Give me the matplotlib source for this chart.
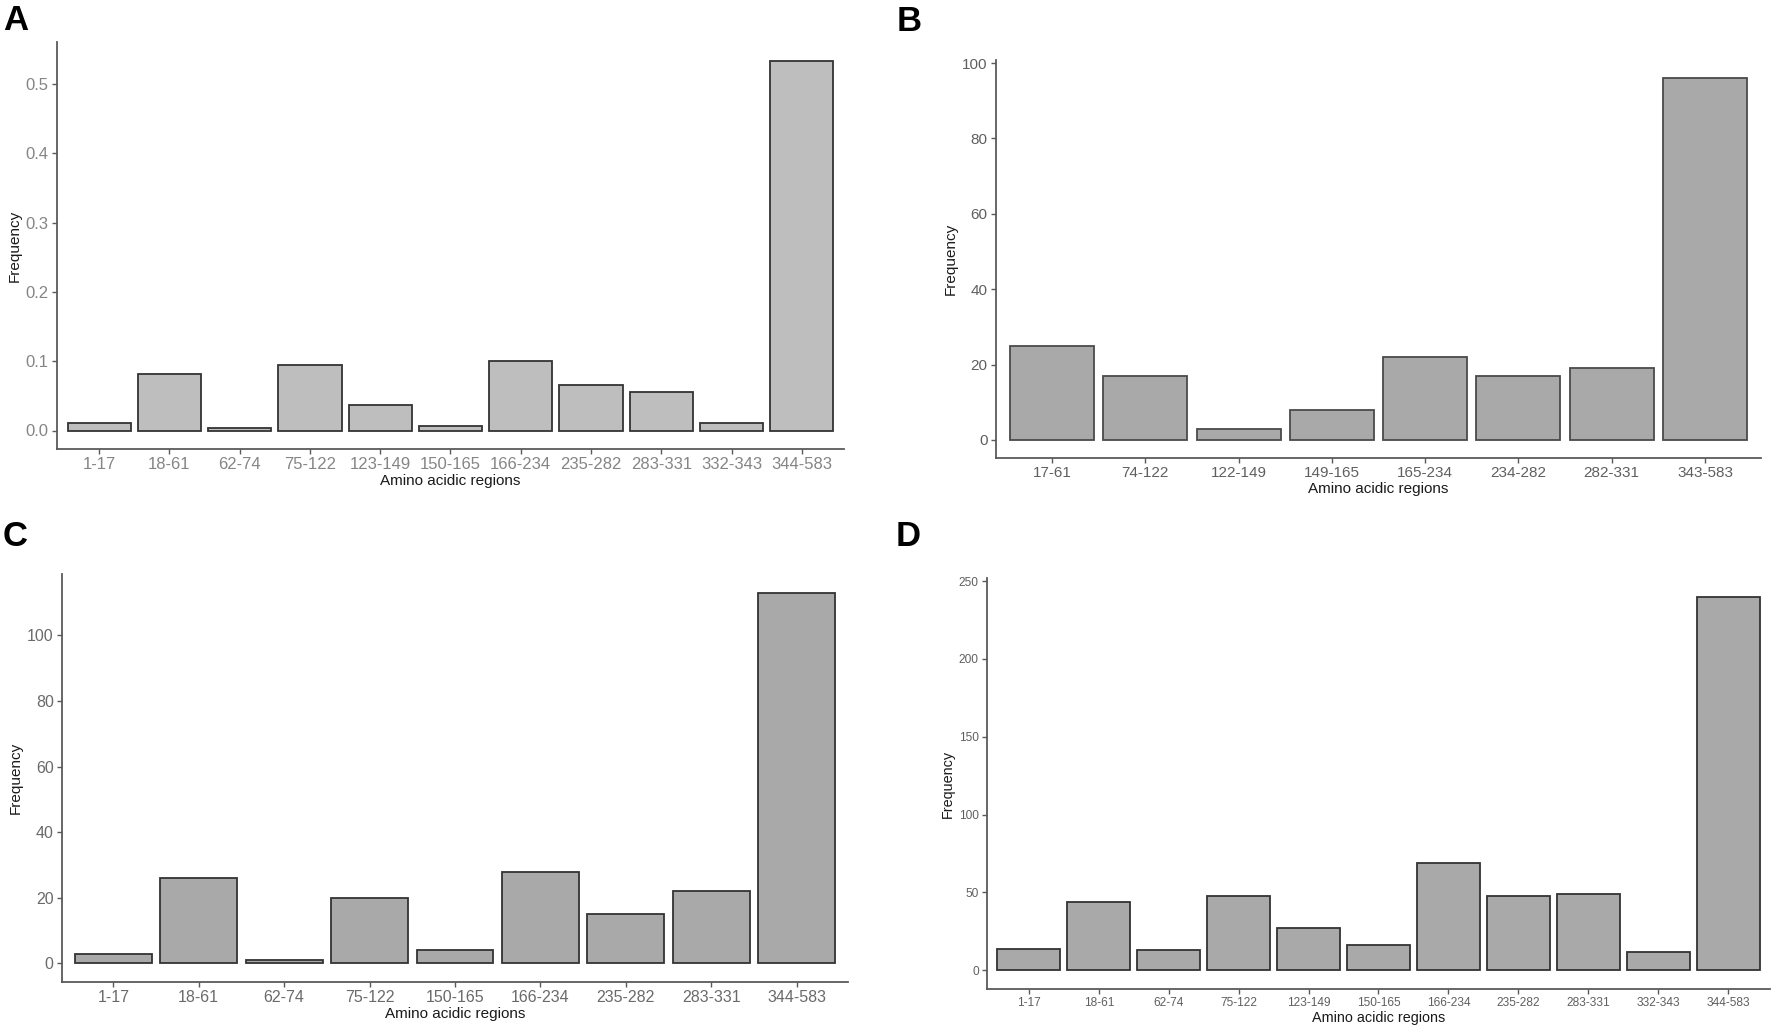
import matplotlib
matplotlib.use("Agg")
import matplotlib.pyplot as plt

plt.rcParams['font.family'] = ['Liberation Sans', 'DejaVu Sans']

# ---------------- data ----------------
cats_A = ["1-17", "18-61", "62-74", "75-122", "123-149", "150-165", "166-234",
          "235-282", "283-331", "332-343", "344-583"]
vals_A = [0.011, 0.081, 0.004, 0.094, 0.037, 0.007, 0.101, 0.065, 0.055, 0.011, 0.534]
ticks_A = [0.0, 0.1, 0.2, 0.3, 0.4, 0.5]
ticklabels_A = ["0.0", "0.1", "0.2", "0.3", "0.4", "0.5"]

cats_B = ["17-61", "74-122", "122-149", "149-165", "165-234", "234-282", "282-331", "343-583"]
vals_B = [25, 17, 3, 8, 22, 17, 19, 96]
ticks_B = [0, 20, 40, 60, 80, 100]

cats_C = ["1-17", "18-61", "62-74", "75-122", "150-165", "166-234", "235-282", "283-331", "344-583"]
vals_C = [3, 26, 1, 20, 4, 28, 15, 22, 113]
ticks_C = [0, 20, 40, 60, 80, 100]

cats_D = ["1-17", "18-61", "62-74", "75-122", "123-149", "150-165", "166-234",
          "235-282", "283-331", "332-343", "344-583"]
vals_D = [14, 44, 13, 48, 27, 16, 69, 48, 49, 12, 240]
ticks_D = [0, 50, 100, 150, 200, 250]

xlabel = "Amino acidic regions"
ylabel = "Frequency"

W, H = 1772, 1030
fig = plt.figure(figsize=(W / 100, H / 100), dpi=100)
fig.patch.set_facecolor("white")


def px_axes(l, r, t, b):
    return fig.add_axes([l / W, 1 - b / H, (r - l) / W, (b - t) / H])


def panel(ax, cats, vals, ticks, fill, edge, tsize, tcolor, lsize, ylim_top=None, ticklabels=None):
    x = list(range(len(cats)))
    ax.bar(x, vals, width=0.9, color=fill, edgecolor=edge, linewidth=1.3, zorder=2)
    ax.set_xlim(-0.6, len(cats) - 1 + 0.6)
    vmax = max(vals)
    top = ylim_top if ylim_top is not None else vmax * 1.05
    ax.set_ylim(-vmax * 0.05, top)
    ax.set_xticks(x)
    ax.set_xticklabels(cats)
    ax.set_yticks(ticks)
    if ticklabels is not None:
        ax.set_yticklabels(ticklabels)
    for s in ["top", "right"]:
        ax.spines[s].set_visible(False)
    for s in ["left", "bottom"]:
        ax.spines[s].set_color("#5a5a5a")
        ax.spines[s].set_linewidth(1.3)
    ax.tick_params(axis="both", length=3.5, width=1.0, color="#5a5a5a",
                   labelsize=tsize, labelcolor=tcolor, pad=2.5)
    ax.set_xlabel(xlabel, fontsize=lsize, color="#1a1a1a", labelpad=1)
    ax.set_ylabel(ylabel, fontsize=lsize, color="#1a1a1a", labelpad=3)


axA = px_axes(57, 844, 42, 449)
panel(axA, cats_A, vals_A, ticks_A, "#bebebe", "#333333", 12, "#858585", 11,
      ticklabels=ticklabels_A)

axB = px_axes(996, 1761, 60, 458)
panel(axB, cats_B, vals_B, ticks_B, "#a9a9a9", "#4a4a4a", 11, "#5f5f5f", 11)

axC = px_axes(62, 848, 574, 982)
panel(axC, cats_C, vals_C, ticks_C, "#a9a9a9", "#333333", 11.5, "#6a6a6a", 11)

axD = px_axes(987, 1770, 578, 989)
panel(axD, cats_D, vals_D, ticks_D, "#a9a9a9", "#333333", 8.6, "#5f5f5f", 10.4)

# panel letters
for lab, (xp, yp) in {"A": (3, 4), "B": (897, 5), "C": (3, 520), "D": (896, 520)}.items():
    fig.text(xp / W, 1 - yp / H, lab, fontsize=25, fontweight="bold",
             ha="left", va="top", color="black")

fig.savefig("out.png", dpi=100, facecolor="white")
